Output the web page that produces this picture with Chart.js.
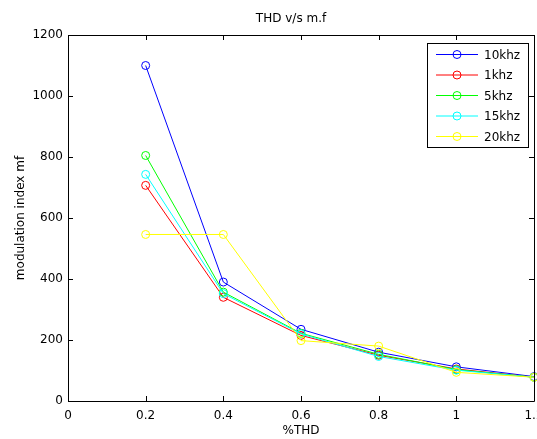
<!DOCTYPE html>
<html>
<head>
<meta charset="utf-8">
<script src="https://cdn.jsdelivr.net/npm/chart.js@4"></script>
<style>
  body { margin: 0; background: #fff; }
  canvas { display: block; }
</style>
</head>
<body>
<canvas id="canvas" width="537" height="439"></canvas>
<script>
// du lieu doc tu hinh
const thd = [0.2, 0.4, 0.6, 0.8, 1.0, 1.2];
const mf10k = [1100, 390, 235, 160, 112, 80];
const mf1k = [707, 340, 215, 150, 105, 78];
const mf5k = [805, 357, 222, 153, 103, 78];
const mf15k = [743, 352, 220, 146, 101, 78];
const mf20k = [546, 546, 198, 180, 94, 78];

const seriesNames = ['10khz', '1khz', '5khz', '15khz', '20khz'];
const seriesColors = ['#0000ff', '#ff0000', '#00ff00', '#00ffff', '#ffff00'];
const seriesValues = [mf10k, mf1k, mf5k, mf15k, mf20k];

const chartTitle = 'THD v/s m.f';
const xTitle = '%THD';
const yTitle = 'modulation index mf';

const FONT = '"DejaVu Sans", sans-serif';
const FSIZE = 12;

// khung kieu matlab: hop, vach chia huong vao trong, chu thich, tieu de
const matlabFrame = {
    id: 'matlabFrame',
    afterDatasetsDraw(chart) {
        const ctx = chart.ctx;
        const a = chart.chartArea;
        const xs = chart.scales.x;
        const ys = chart.scales.y;
        const tick = 5;
        ctx.save();
        ctx.strokeStyle = '#000';
        ctx.lineWidth = 1;
        ctx.beginPath();
        ctx.rect(Math.round(a.left) + 0.5, Math.round(a.top) + 0.5,
                 Math.round(a.right - a.left), Math.round(a.bottom - a.top));
        xs.ticks.forEach(t => {
            const px = Math.round(xs.getPixelForValue(t.value)) + 0.5;
            ctx.moveTo(px, a.bottom); ctx.lineTo(px, a.bottom - tick);
            ctx.moveTo(px, a.top); ctx.lineTo(px, a.top + tick);
        });
        ys.ticks.forEach(t => {
            const py = Math.round(ys.getPixelForValue(t.value)) + 0.5;
            ctx.moveTo(a.left, py); ctx.lineTo(a.left + tick, py);
            ctx.moveTo(a.right, py); ctx.lineTo(a.right - tick, py);
        });
        ctx.stroke();

        // chu thich
        const lx = 427.5, ly = 43.5, lw = 101, lh = 104;
        ctx.fillStyle = '#fff';
        ctx.fillRect(lx, ly, lw, lh);
        ctx.strokeRect(lx, ly, lw, lh);
        ctx.font = FSIZE + 'px ' + FONT;
        ctx.textBaseline = 'middle';
        ctx.textAlign = 'left';
        chart.data.datasets.forEach((ds, i) => {
            const y = 54.5 + i * 20.5;
            ctx.strokeStyle = ds.borderColor;
            ctx.beginPath();
            ctx.moveTo(436, y); ctx.lineTo(478, y);
            ctx.stroke();
            ctx.beginPath();
            ctx.arc(457, y, 4, 0, Math.PI * 2);
            ctx.stroke();
            ctx.fillStyle = '#000';
            ctx.fillText(ds.label, 484, y + 1);
        });

        // tieu de
        ctx.textAlign = 'center';
        ctx.fillText(chartTitle, 291, 19);
        ctx.restore();
    }
};

const datasets = seriesNames.map((name, i) => ({
    label: name,
    data: thd.map((x, j) => ({ x: x, y: seriesValues[i][j] })),
    borderColor: seriesColors[i],
    backgroundColor: 'rgba(0,0,0,0)',
    pointBorderColor: seriesColors[i],
    pointBackgroundColor: 'rgba(0,0,0,0)',
    pointRadius: 4,
    pointBorderWidth: 1,
    borderWidth: 1,
    tension: 0,
    clip: false,
    order: seriesNames.length - i
}));

new Chart(document.getElementById('canvas').getContext('2d'), {
    type: 'line',
    data: { datasets: datasets },
    plugins: [matlabFrame],
    options: {
        responsive: false,
        animation: false,
        devicePixelRatio: 1,
        layout: { padding: { top: 35, right: 3, bottom: 0, left: 0 }, autoPadding: false },
        plugins: {
            legend: { display: false },
            title: { display: false },
            tooltip: { enabled: false }
        },
        scales: {
            x: {
                type: 'linear',
                min: 0,
                max: 1.2,
                afterFit(scale) {
                    scale.height = 38;
                    scale.paddingLeft = 0;
                    scale.paddingRight = 0;
                },
                grid: { display: false, drawTicks: false },
                border: { display: false },
                ticks: {
                    stepSize: 0.2,
                    padding: 8,
                    color: '#000',
                    maxRotation: 0,
                    autoSkip: false,
                    font: { family: FONT, size: FSIZE },
                    callback: v => String(Math.round(v * 10) / 10)
                },
                title: {
                    display: true,
                    text: xTitle,
                    color: '#000',
                    font: { family: FONT, size: FSIZE },
                    padding: { top: 0, bottom: 1 }
                }
            },
            y: {
                min: 0,
                max: 1200,
                afterFit(scale) {
                    scale.width = 68;
                    scale.paddingTop = 0;
                    scale.paddingBottom = 0;
                },
                grid: { display: false, drawTicks: false },
                border: { display: false },
                ticks: {
                    stepSize: 200,
                    padding: 5,
                    color: '#000',
                    font: { family: FONT, size: FSIZE },
                    callback: v => String(v)
                },
                title: {
                    display: true,
                    text: yTitle,
                    color: '#000',
                    font: { family: FONT, size: FSIZE },
                    padding: { top: 14, bottom: 0 }
                }
            }
        }
    }
});
</script>
</body>
</html>
